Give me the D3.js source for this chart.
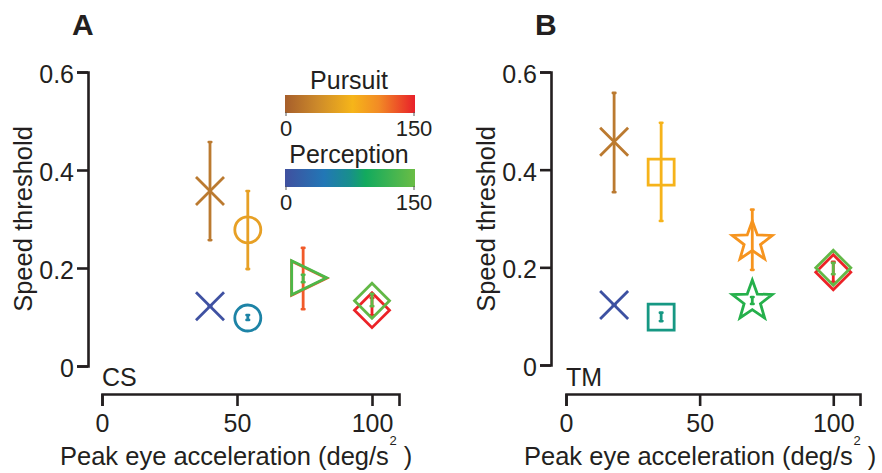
<!DOCTYPE html>
<html>
<head>
<meta charset="utf-8">
<script src="https://cdn.jsdelivr.net/npm/d3@7"></script>
<style>
  body { margin: 0; background: #fff; }
  svg { font-family: "Liberation Sans", Arial, Helvetica, sans-serif; }
  text { fill: #231f20; }
</style>
</head>
<body>
<svg id="chart" width="882" height="473"></svg>
<script>
// ---- Data ----
// Panel A (subject CS)
var accelCS = [40, 54, 74.5, 100];
var markersCS = ["cross", "circle", "triangle", "diamond"];
var pursuitCS = [0.357, 0.278, 0.179, 0.114];
var pursuitLoCS = [0.257, 0.198, 0.116, 0.104];
var pursuitHiCS = [0.457, 0.357, 0.241, 0.139];
var perceptCS = [0.122, 0.098, 0.18, 0.133];
var perceptLoCS = [0.122, 0.094, 0.171, 0.122];
var perceptHiCS = [0.122, 0.104, 0.186, 0.147];
var pursuitColorsCS = ["#bb7a30", "#e7a025", "#f15a29", "#ec2227"];
var perceptColorsCS = ["#3f51a2", "#1d83a6", "#4db848", "#62b846"];

// Panel B (subject TM)
var accelTM = [18, 35.6, 69.7, 100];
var markersTM = ["cross", "square", "star", "diamond"];
var pursuitTM = [0.457, 0.395, 0.252, 0.19];
var pursuitLoTM = [0.354, 0.295, 0.195, 0.17];
var pursuitHiTM = [0.557, 0.496, 0.318, 0.211];
var perceptTM = [0.123, 0.098, 0.131, 0.199];
var perceptLoTM = [0.123, 0.09, 0.125, 0.186];
var perceptHiTM = [0.123, 0.107, 0.139, 0.209];
var pursuitColorsTM = ["#bb7a30", "#f6b31a", "#f6941e", "#ec2227"];
var perceptColorsTM = ["#3d51a2", "#169883", "#25b04b", "#62b846"];

// Axes
var xTicks = [0, 50, 100];
var yTicks = [0, 0.2, 0.4, 0.6];
var yTickLabels = ["0", "0.2", "0.4", "0.6"];

// Colour bars
var barTicks = [0, 150];
var pursuitStops = [[0, "#a65e2b"], [0.25, "#cd8a2a"], [0.52, "#f6b519"], [0.72, "#f28b25"], [1, "#e8202a"]];
var perceptStops = [[0, "#40509f"], [0.3, "#2277b6"], [0.5, "#188f8c"], [0.62, "#12aa5e"], [1, "#6abd45"]];

var svg = d3.select("#chart");
var ink = "#231f20";

// marker outlines, centred on the data point
function markerPath(type) {
  var p = d3.path();
  if (type === "cross") {
    p.moveTo(-14, -14); p.lineTo(14, 14);
    p.moveTo(-14, 14); p.lineTo(14, -14);
  } else if (type === "circle") {
    p.moveTo(13, 0); p.arc(0, 0, 13, 0, 2 * Math.PI);
  } else if (type === "square") {
    p.rect(-13, -13, 26, 26);
  } else if (type === "triangle") {
    p.moveTo(-11.5, -17); p.lineTo(23.5, 0); p.lineTo(-11.5, 17); p.closePath();
  } else if (type === "diamond") {
    p.moveTo(0, -17.5); p.lineTo(17.5, 0); p.lineTo(0, 17.5); p.lineTo(-17.5, 0); p.closePath();
  } else if (type === "star") {
    for (var k = 0; k < 10; k++) {
      var r = k % 2 ? 8.6 : 21;
      var a = -Math.PI / 2 + k * Math.PI / 5;
      if (k === 0) p.moveTo(r * Math.cos(a), r * Math.sin(a));
      else p.lineTo(r * Math.cos(a), r * Math.sin(a));
    }
    p.closePath();
  }
  return p.toString();
}

/**
 * Reusable scatter panel with two series (pursuit / perception)
 */
function scatterPanel() {
  var xRange = [0, 100];
  var yRange = [100, 0];
  var yAxisX = 0;
  var xAxisY = 0;

  function my(g, cfg) {
    var x = d3.scaleLinear().domain([0, 110]).range(xRange);
    var y = d3.scaleLinear().domain([0, 0.6]).range(yRange);

    var yAxis = d3.axisLeft(y)
      .tickValues(yTicks)
      .tickFormat(function(d, i) { return yTickLabels[i]; })
      .tickSizeOuter(0).tickSize(11).tickPadding(3);
    var xAxis = d3.axisBottom(x)
      .tickValues(xTicks)
      .tickSizeOuter(0).tickSize(12).tickPadding(8);

    var ya = g.append("g").attr("transform", "translate(" + yAxisX + ",0)").call(yAxis);
    var xa = g.append("g").attr("transform", "translate(0," + xAxisY + ")").call(xAxis);
    [ya, xa].forEach(function(a) {
      a.select(".domain").attr("stroke", ink).attr("stroke-width", 2.6);
      a.selectAll(".tick line").attr("stroke", ink).attr("stroke-width", 2.6);
      a.selectAll(".tick text")
        .attr("font-size", 25)
        .attr("font-family", "Liberation Sans, Arial, sans-serif")
        .attr("fill", ink);
    });
    ya.selectAll(".tick text").attr("dy", "0.42em");

    function series(vals, lo, hi, colors) {
      var pts = g.append("g").selectAll("g")
        .data(vals)
        .join("g")
        .attr("transform", function(d, i) { return "translate(" + x(cfg.accel[i]) + "," + y(d) + ")"; });

      pts.append("path")
        .attr("d", function(d, i) { return markerPath(cfg.markers[i]); })
        .attr("fill", "none")
        .attr("stroke", function(d, i) { return colors[i]; })
        .attr("stroke-width", 2.8)
        .attr("stroke-linejoin", "miter");

      pts.append("path")
        .attr("d", function(d, i) {
          var t = y(hi[i]) - y(d), b = y(lo[i]) - y(d);
          return "M0," + t + "V" + b + "M-1.2," + t + "H1.2M-1.2," + b + "H1.2";
        })
        .attr("fill", "none")
        .attr("stroke", function(d, i) { return colors[i]; })
        .attr("stroke-width", 2.8)
        .attr("stroke-linecap", "round");
    }

    series(cfg.pursuit, cfg.pursuitLo, cfg.pursuitHi, cfg.pursuitColors);
    series(cfg.percept, cfg.perceptLo, cfg.perceptHi, cfg.perceptColors);

    // subject tag
    g.append("text")
      .attr("x", x(0))
      .attr("y", 386)
      .attr("font-size", 25)
      .text(cfg.subject);

    // axis titles
    g.append("text")
      .attr("transform", "translate(" + (yAxisX - 56) + ",219) rotate(-90)")
      .attr("text-anchor", "middle")
      .attr("font-size", 25.5)
      .text("Speed threshold");

    var xl = g.append("text")
      .attr("x", x(0) - 42)
      .attr("y", 465)
      .attr("font-size", 25.5);
    xl.append("tspan").text("Peak eye acceleration (deg/s");
    xl.append("tspan").attr("dx", 0.5).attr("dy", -20).attr("font-size", 13).text("2");
    xl.append("tspan").attr("dy", 20).text(" )");

    // panel letter
    g.append("text")
      .attr("x", yAxisX - 16)
      .attr("y", 35)
      .attr("font-size", 30)
      .attr("font-weight", "bold")
      .text(cfg.letter);
  }

  my.xRange = function(_) { if (!arguments.length) return xRange; xRange = _; return this; };
  my.yRange = function(_) { if (!arguments.length) return yRange; yRange = _; return this; };
  my.yAxisX = function(_) { if (!arguments.length) return yAxisX; yAxisX = _; return this; };
  my.xAxisY = function(_) { if (!arguments.length) return xAxisY; xAxisY = _; return this; };

  return my;
}

scatterPanel()
  .xRange([102, 399]).yRange([366, 72]).yAxisX(88).xAxisY(394)(svg.append("g"), {
    letter: "A", subject: "CS", accel: accelCS, markers: markersCS,
    pursuit: pursuitCS, pursuitLo: pursuitLoCS, pursuitHi: pursuitHiCS, pursuitColors: pursuitColorsCS,
    percept: perceptCS, perceptLo: perceptLoCS, perceptHi: perceptHiCS, perceptColors: perceptColorsCS
  });

scatterPanel()
  .xRange([566, 860]).yRange([365, 72]).yAxisX(551).xAxisY(394)(svg.append("g"), {
    letter: "B", subject: "TM", accel: accelTM, markers: markersTM,
    pursuit: pursuitTM, pursuitLo: pursuitLoTM, pursuitHi: pursuitHiTM, pursuitColors: pursuitColorsTM,
    percept: perceptTM, perceptLo: perceptLoTM, perceptHi: perceptHiTM, perceptColors: perceptColorsTM
  });

// ---- Colour bar legends ----
var defs = svg.append("defs");
function colorBar(id, title, stops, top) {
  var grad = defs.append("linearGradient").attr("id", id);
  grad.selectAll("stop").data(stops).join("stop")
    .attr("offset", function(d) { return d[0]; })
    .attr("stop-color", function(d) { return d[1]; });

  var cx = d3.scaleLinear().domain([0, 150]).range([286, 414]);
  var g = svg.append("g");
  g.append("text")
    .attr("x", 349).attr("y", top - 6)
    .attr("text-anchor", "middle")
    .attr("font-size", 25)
    .text(title);
  g.append("rect")
    .attr("x", 285).attr("y", top).attr("width", 130).attr("height", 18)
    .attr("fill", "url(#" + id + ")");
  g.selectAll("line").data(barTicks).join("line")
    .attr("x1", cx).attr("x2", cx)
    .attr("y1", top + 17).attr("y2", top + 21)
    .attr("stroke", "#555").attr("stroke-width", 1);
  g.selectAll("text.tl").data(barTicks).join("text")
    .attr("class", "tl")
    .attr("x", cx).attr("y", top + 41)
    .attr("text-anchor", "middle")
    .attr("font-size", 22)
    .text(function(d) { return d; });
}
colorBar("gradPursuit", "Pursuit", pursuitStops, 95);
colorBar("gradPercept", "Perception", perceptStops, 169);
</script>
</body>
</html>
